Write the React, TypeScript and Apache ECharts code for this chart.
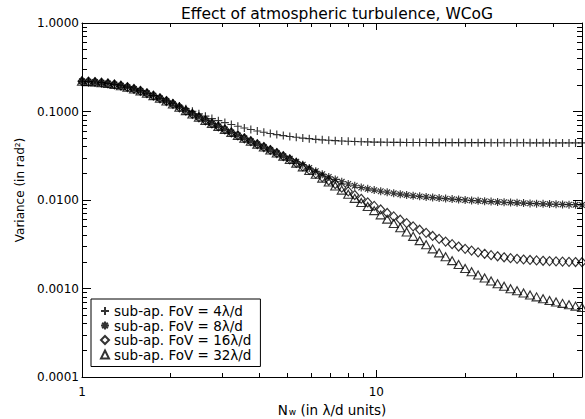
import React, { useEffect, useRef } from 'react';
import * as echarts from 'echarts';

const FONT = 'DejaVu Sans';

const titleText = 'Effect of atmospheric turbulence, WCoG';
const yTitle = 'Variance (in rad²)';
const seriesNames = [
  'sub-ap. FoV = 4λ/d',
  'sub-ap. FoV = 8λ/d',
  'sub-ap. FoV = 16λ/d',
  'sub-ap. FoV = 32λ/d',
];

const nw = [
  1.000, 1.052, 1.107, 1.165, 1.225, 1.289, 1.356, 1.427, 1.502, 1.580,
  1.662, 1.749, 1.840, 1.936, 2.037, 2.143, 2.254, 2.372, 2.496, 2.626,
  2.763, 2.906, 3.058, 3.217, 3.385, 3.561, 3.747, 3.942, 4.148, 4.364,
  4.591, 4.831, 5.083, 5.347, 5.626, 5.919, 6.228, 6.552, 6.894, 7.253,
  7.631, 8.029, 8.447, 8.888, 9.351, 9.838, 10.35, 10.89, 11.46, 12.06,
  12.68, 13.34, 14.04, 14.77, 15.54, 16.35, 17.20, 18.10, 19.04, 20.04,
  21.08, 22.18, 23.34, 24.55, 25.83, 27.18, 28.59, 30.08, 31.65, 33.30,
  35.04, 36.87, 38.79, 40.81, 42.94, 45.17, 47.53, 50.00,
];

const var4 = [
  0.2198, 0.2176, 0.2154, 0.2116, 0.2074, 0.2020, 0.1956, 0.1886, 0.1797, 0.1711,
  0.1608, 0.1510, 0.1410, 0.1313, 0.1238, 0.1152, 0.1074, 0.1006, 0.09410, 0.08851,
  0.08324, 0.07880, 0.07490, 0.07129, 0.06811, 0.06510, 0.06266, 0.06028, 0.05829, 0.05643,
  0.05483, 0.05346, 0.05218, 0.05112, 0.05010, 0.04930, 0.04850, 0.04787, 0.04729, 0.04680,
  0.04643, 0.04607, 0.04579, 0.04550, 0.04532, 0.04515, 0.04502, 0.04493, 0.04484, 0.04476,
  0.04466, 0.04464, 0.04462, 0.04460, 0.04458, 0.04456, 0.04454, 0.04452, 0.04450, 0.04448,
  0.04446, 0.04444, 0.04442, 0.04440, 0.04438, 0.04436, 0.04434, 0.04432, 0.04430, 0.04428,
  0.04426, 0.04424, 0.04422, 0.04420, 0.04419, 0.04418, 0.04417, 0.04416,
];

const var8 = [
  0.2198, 0.2176, 0.2154, 0.2116, 0.2074, 0.2020, 0.1956, 0.1886, 0.1797, 0.1711,
  0.1608, 0.1510, 0.1410, 0.1313, 0.1216, 0.1115, 0.1023, 0.09382, 0.08606, 0.07943,
  0.07338, 0.06784, 0.06275, 0.05803, 0.05377, 0.04984, 0.04617, 0.04278, 0.03965, 0.03673,
  0.03395, 0.03131, 0.02922, 0.02708, 0.02510, 0.02301, 0.02112, 0.01959, 0.01824, 0.01708,
  0.01606, 0.01516, 0.01449, 0.01384, 0.01337, 0.01293, 0.01256, 0.01222, 0.01191, 0.01163,
  0.01137, 0.01118, 0.01099, 0.01082, 0.01065, 0.01051, 0.01037, 0.01024, 0.01011, 0.009991,
  0.009881, 0.009790, 0.009692, 0.009594, 0.009506, 0.009430, 0.009356, 0.009290, 0.009226, 0.009158,
  0.009095, 0.009043, 0.008997, 0.008952, 0.008907, 0.008862, 0.008831, 0.008790,
];

const var16 = [
  0.2198, 0.2176, 0.2154, 0.2116, 0.2074, 0.2020, 0.1956, 0.1886, 0.1797, 0.1711,
  0.1608, 0.1510, 0.1410, 0.1313, 0.1216, 0.1115, 0.1023, 0.09382, 0.08606, 0.07943,
  0.07338, 0.06784, 0.06275, 0.05803, 0.05377, 0.04984, 0.04617, 0.04278, 0.03965, 0.03673,
  0.03395, 0.03131, 0.02877, 0.02625, 0.02396, 0.02183, 0.01988, 0.01816, 0.01660, 0.01515,
  0.01378, 0.01253, 0.01138, 0.01033, 0.009408, 0.008571, 0.007816, 0.007135, 0.006523, 0.005984,
  0.005487, 0.005035, 0.004618, 0.004254, 0.003923, 0.003639, 0.003391, 0.003168, 0.002980, 0.002808,
  0.002682, 0.002562, 0.002468, 0.002381, 0.002311, 0.002253, 0.002202, 0.002164, 0.002127, 0.002101,
  0.002076, 0.002057, 0.002040, 0.002026, 0.002014, 0.002002, 0.001992, 0.001982,
];

const var32 = [
  0.2198, 0.2176, 0.2154, 0.2116, 0.2074, 0.2020, 0.1956, 0.1886, 0.1797, 0.1711,
  0.1608, 0.1510, 0.1410, 0.1313, 0.1216, 0.1115, 0.1023, 0.09382, 0.08606, 0.07943,
  0.07338, 0.06784, 0.06275, 0.05803, 0.05377, 0.04984, 0.04617, 0.04278, 0.03965, 0.03673,
  0.03395, 0.03131, 0.02873, 0.02608, 0.02368, 0.02150, 0.01953, 0.01767, 0.01596, 0.01439,
  0.01293, 0.01162, 0.01044, 0.009386, 0.008434, 0.007584, 0.006792, 0.006076, 0.005433, 0.004858,
  0.004341, 0.003885, 0.003472, 0.003119, 0.002804, 0.002528, 0.002285, 0.002063, 0.001864, 0.001686,
  0.001547, 0.001418, 0.001312, 0.001216, 0.001132, 0.001060, 0.0009956, 0.0009414, 0.0008904, 0.0008462,
  0.0008042, 0.0007674, 0.0007330, 0.0007036, 0.0006792, 0.0006555, 0.0006326, 0.0006105,
];

const xMajorTicks = [1, 10];
const xMinorTicks = [2, 3, 4, 5, 6, 7, 8, 9, 20, 30, 40];
const yMajorTicks = [0.0001, 0.001, 0.01, 0.1, 1];
const yMinorTicks = [
  0.0002, 0.0003, 0.0004, 0.0005, 0.0006, 0.0007, 0.0008, 0.0009,
  0.002, 0.003, 0.004, 0.005, 0.006, 0.007, 0.008, 0.009,
  0.02, 0.03, 0.04, 0.05, 0.06, 0.07, 0.08, 0.09,
  0.2, 0.3, 0.4, 0.5, 0.6, 0.7, 0.8, 0.9,
];

const plusPath = 'path://M0 4L8 4M4 0L4 8';
const starPath = 'path://M0 4L8 4M4 0L4 8M1.2 1.2L6.8 6.8M1.2 6.8L6.8 1.2';

export default function App() {
  const ref = useRef<HTMLDivElement>(null);

  useEffect(() => {
    document.body.style.margin = '0';
    if (!ref.current) return;
    const chart = echarts.init(ref.current, null, { renderer: 'svg' });
    const black = '#000';

    const xBase = {
      type: 'log', logBase: 10, min: 1, max: 50,
      splitLine: { show: false }, minorTick: { show: false }, minorSplitLine: { show: false },
    };
    const yBase = {
      type: 'log', logBase: 10, min: 0.0001, max: 1,
      splitLine: { show: false }, minorTick: { show: false }, minorSplitLine: { show: false },
    };
    const lineOn = { show: true, onZero: false, lineStyle: { color: black, width: 1 } };
    const lineOff = { show: false, onZero: false };
    const tick = (vals: number[], len: number) => ({
      show: true, inside: true, length: len, customValues: vals,
      lineStyle: { color: black, width: 1 },
    });

    const mk = (data: number[]) => nw.map((x, i) => [x, data[i]]);
    const sStyle = { color: 'rgba(0,0,0,0)', borderColor: black, borderWidth: 1.15 };
    const mkSeries = (name: string, data: number[], symbol: string, size: any) => ({
      type: 'scatter', name, data: mk(data), symbol, symbolSize: size,
      xAxisIndex: 0, yAxisIndex: 0, itemStyle: sStyle, silent: true,
      emphasis: { disabled: true },
    });

    const option: any = {
      animation: false,
      backgroundColor: '#fff',
      title: {
        text: titleText, left: 332, top: 1, textAlign: 'center',
        textStyle: { fontFamily: FONT, fontSize: 15.5, fontWeight: 'normal', color: black },
      },
      grid: { left: 82, right: 3, top: 23, bottom: 42, outerBoundsMode: 'none' },
      xAxis: [
        {
          ...xBase, position: 'bottom', axisLine: lineOn, axisTick: tick(xMajorTicks, 7),
          axisLabel: {
            show: true, customValues: xMajorTicks, margin: 9, color: black,
            fontFamily: FONT, fontSize: 12, formatter: (v: number) => String(Math.round(v)),
          },
          name: '{a|N}{b|w}{a| (in λ/d units)}',
          nameLocation: 'middle', nameGap: 22,
          nameTextStyle: {
            color: black,
            rich: {
              a: { fontFamily: FONT, fontSize: 13.5, color: black, lineHeight: 16, verticalAlign: 'bottom' },
              b: { fontFamily: FONT, fontSize: 9, color: black, lineHeight: 6, verticalAlign: 'bottom', padding: [0, 0, 0, 1] },
            },
          },
        },
        { ...xBase, position: 'bottom', axisLine: lineOff, axisTick: tick(xMinorTicks, 4), axisLabel: { show: false } },
        { ...xBase, position: 'top', axisLine: lineOn, axisTick: tick(xMajorTicks, 7), axisLabel: { show: false } },
        { ...xBase, position: 'top', axisLine: lineOff, axisTick: tick(xMinorTicks, 4), axisLabel: { show: false } },
      ],
      yAxis: [
        {
          ...yBase, position: 'left', axisLine: lineOn, axisTick: tick(yMajorTicks, 9),
          axisLabel: {
            show: true, customValues: yMajorTicks, margin: 3, color: black,
            fontFamily: FONT, fontSize: 12, formatter: (v: number) => v.toFixed(4),
          },
        },
        { ...yBase, position: 'left', axisLine: lineOff, axisTick: tick(yMinorTicks, 5), axisLabel: { show: false } },
        { ...yBase, position: 'right', axisLine: lineOn, axisTick: tick(yMajorTicks, 9), axisLabel: { show: false } },
        { ...yBase, position: 'right', axisLine: lineOff, axisTick: tick(yMinorTicks, 5), axisLabel: { show: false } },
      ],
      legend: {
        orient: 'vertical', left: 91, top: 299,
        padding: [5, 9, 5, 9], itemGap: 0.5, itemWidth: 8, itemHeight: 8,
        borderColor: black, borderWidth: 1, backgroundColor: '#fff',
        selectedMode: false,
        textStyle: { fontFamily: FONT, fontSize: 13.5, color: black, lineHeight: 13 },
        data: seriesNames,
      },
      graphic: [
        {
          type: 'text', x: 20, y: 190, rotation: Math.PI / 2,
          style: {
            text: yTitle, fontFamily: FONT, fontSize: 12, fill: black,
            align: 'center', verticalAlign: 'middle',
          },
        },
      ],
      series: [
        mkSeries(seriesNames[0], var4, plusPath, 8),
        mkSeries(seriesNames[1], var8, starPath, 8),
        mkSeries(seriesNames[2], var16, 'diamond', [8, 9]),
        mkSeries(seriesNames[3], var32, 'triangle', [9, 8]),
      ],
    };

    chart.setOption(option);
    return () => chart.dispose();
  }, []);

  return <div ref={ref} style={{ width: 585, height: 419 }} />;
}
